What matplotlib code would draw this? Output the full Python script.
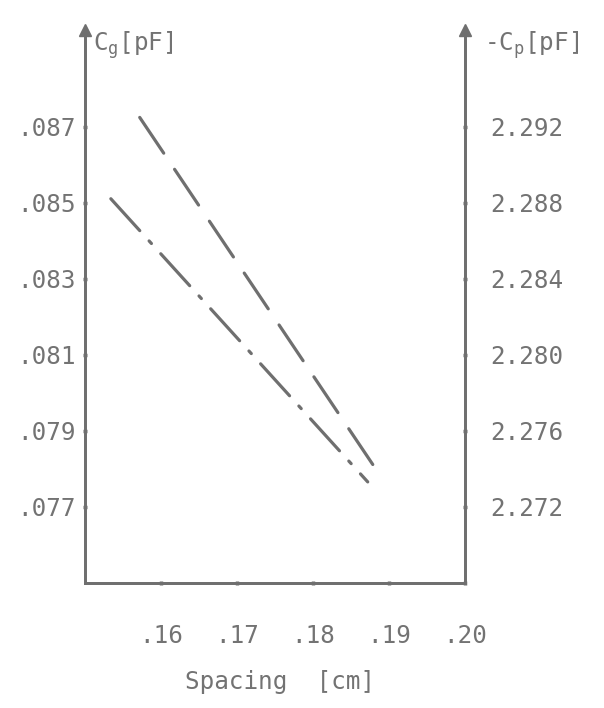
import matplotlib
matplotlib.use("Agg")
import matplotlib.pyplot as plt

# ---- data ----
spacing_cg = [0.1534, 0.1872]
cg_values = [0.08511, 0.07766]          # C_g [pF], left axis (dash-dot)
spacing_cp = [0.1572, 0.1891]
cp_values = [2.2925, 2.2735]            # -C_p [pF], right axis (dashed)

x_ticks = [0.16, 0.17, 0.18, 0.19, 0.20]
x_ticklabels = [".16", ".17", ".18", ".19", ".20"]
left_ticks = [0.077, 0.079, 0.081, 0.083, 0.085, 0.087]
left_ticklabels = [".077", ".079", ".081", ".083", ".085", ".087"]
right_ticks = [2.272, 2.276, 2.280, 2.284, 2.288, 2.292]
right_ticklabels = ["2.272", "2.276", "2.280", "2.284", "2.288", "2.292"]

GRAY = "#6f6f6f"
TXT = "#737373"
FONT = "DejaVu Sans Mono"
FS = 17.5

plt.rcParams["font.family"] = FONT
plt.rcParams["mathtext.default"] = "regular"
plt.rcParams["lines.scale_dashes"] = False

W, H = 604, 708
fig = plt.figure(figsize=(W / 100, H / 100), dpi=100)
fig.patch.set_facecolor("white")

L, R, B, T = 85, 465, 583, 30
ax = fig.add_axes([L / W, 1 - B / H, (R - L) / W, (B - T) / H])
ax2 = ax.twinx()

ax.set_xlim(0.15, 0.20)
ax.set_ylim(0.075, 0.08955)
ax2.set_ylim(2.268, 2.268 + (0.08955 - 0.075) * 2)

ax.plot(spacing_cg, cg_values, color=GRAY, lw=2.3,
        dashes=(31, 10, 2.5, 10), solid_capstyle="round", dash_capstyle="round")
ax2.plot(spacing_cp, cp_values, color=GRAY, lw=2.3,
         dashes=(31, 14), dash_capstyle="round")

for a in (ax, ax2):
    a.spines["top"].set_visible(False)
    for s in ("left", "right", "bottom"):
        a.spines[s].set_color(GRAY)
        a.spines[s].set_linewidth(2.0)
    a.set_facecolor("none")

ax.set_xticks(x_ticks)
ax.set_xticklabels(x_ticklabels)
ax.set_yticks(left_ticks)
ax.set_yticklabels(left_ticklabels)
ax2.set_yticks(right_ticks)
ax2.set_yticklabels(right_ticklabels)

ax.tick_params(axis="x", length=3, width=2.5, color=GRAY, direction="inout",
               pad=28, labelsize=FS, labelcolor=TXT)
ax.tick_params(axis="y", length=3, width=2.5, color=GRAY, direction="inout",
               pad=5, labelsize=FS, labelcolor=TXT)
ax2.tick_params(axis="y", length=3, width=2.5, color=GRAY, direction="inout",
                pad=17, labelsize=FS, labelcolor=TXT)

# arrows at top of vertical axes
for xa in (0, 1):
    ax.plot([xa], [1.0], marker="^", markersize=9, color=GRAY,
            transform=ax.transAxes, clip_on=False)

ax.set_xlabel("Spacing  [cm]", fontsize=FS, color=TXT, va="center")
ax.xaxis.set_label_coords((280 - L) / (R - L), -(682 - B) / (B - T))

fig.text(93 / W, 1 - 45 / H, r"C$_{g}$[pF]", fontsize=FS, color=TXT,
         ha="left", va="center")
fig.text(484 / W, 1 - 45 / H, r"-C$_{p}$[pF]", fontsize=FS, color=TXT,
         ha="left", va="center")

fig.savefig("out.png", dpi=100, facecolor="white")
